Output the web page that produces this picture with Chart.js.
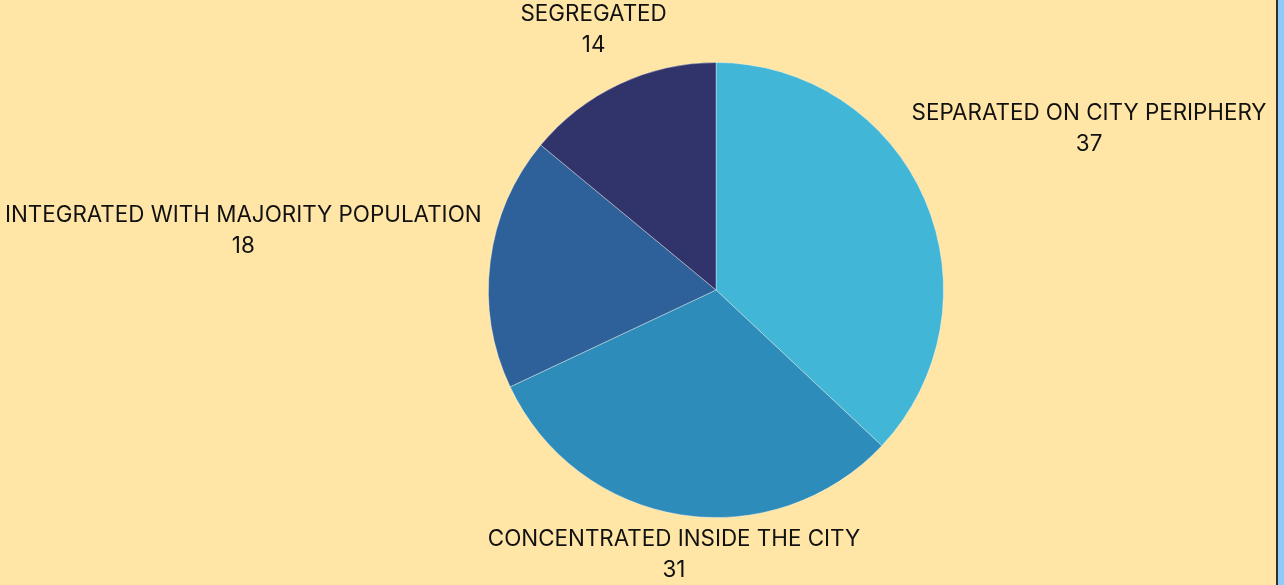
<!DOCTYPE html>
<html>
<head>
<meta charset="utf-8">
<script src="https://cdn.jsdelivr.net/npm/chart.js@4.4.1/dist/chart.umd.min.js"></script>
<style>
  html, body { margin: 0; padding: 0; background: #90CAF9; overflow: hidden; }
  #frame { width: 1276px; height: 585px; background: #FFE6A6; border-right: 2px solid #2b2f3a; }
  canvas { display: block; }
</style>
</head>
<body>
<div id="frame"><canvas id="pie-chart" width="1276" height="585"></canvas></div>
<script>
// data
const categories = ['SEPARATED ON CITY PERIPHERY', 'CONCENTRATED INSIDE THE CITY', 'INTEGRATED WITH MAJORITY POPULATION', 'SEGREGATED'];
const values = [37, 31, 18, 14];
const sliceColors = ['#41B6D6', '#2E8CBA', '#2E6199', '#31346B'];

// labels outside the pie, centred on each slice's middle ray,
// pushed out until the text box clears the edge
const outsideLabels = {
    id: 'outsideLabels',
    afterDatasetsDraw(chart) {
        const ctx = chart.ctx;
        const meta = chart.getDatasetMeta(0);
        const gap = 9;
        const lineH = 31;
        ctx.save();
        ctx.font = '22.4px Inter, sans-serif';
        ctx.fillStyle = '#111111';
        ctx.textAlign = 'center';
        ctx.textBaseline = 'middle';
        meta.data.forEach((arc, i) => {
            const mid = (arc.startAngle + arc.endAngle) / 2;
            const ux = Math.cos(mid), uy = Math.sin(mid);
            const hw = ctx.measureText(categories[i]).width / 2;
            const hh = 28;
            const r = arc.outerRadius;
            let d = r;
            for (; d < r + 600; d += 1) {
                const cx = d * ux, cy = d * uy;
                const nx = Math.max(Math.abs(cx) - hw, 0);
                const ny = Math.max(Math.abs(cy) - hh, 0);
                if (Math.hypot(nx, ny) >= r + gap) break;
            }
            const x = arc.x + d * ux;
            const y = arc.y + d * uy;
            ctx.fillText(categories[i], x, y - lineH / 2);
            ctx.fillText(String(values[i]), x, y + lineH / 2);
        });
        ctx.restore();
    }
};

const pieCtx = document.getElementById('pie-chart').getContext('2d');
// eslint-disable-next-line no-undef, no-unused-vars
const pieChart = new Chart(pieCtx, {
    type: 'pie',
    data: {
        labels: categories,
        datasets: [{
            data: values,
            backgroundColor: sliceColors,
            borderColor: 'rgba(255,255,255,0.35)',
            borderWidth: 1
        }]
    },
    options: {
        responsive: false,
        animation: false,
        layout: { padding: { left: 488, right: 332, top: 62, bottom: 67 } },
        plugins: {
            legend: { display: false },
            tooltip: { enabled: false }
        }
    },
    plugins: [outsideLabels]
});
</script>
</body>
</html>
